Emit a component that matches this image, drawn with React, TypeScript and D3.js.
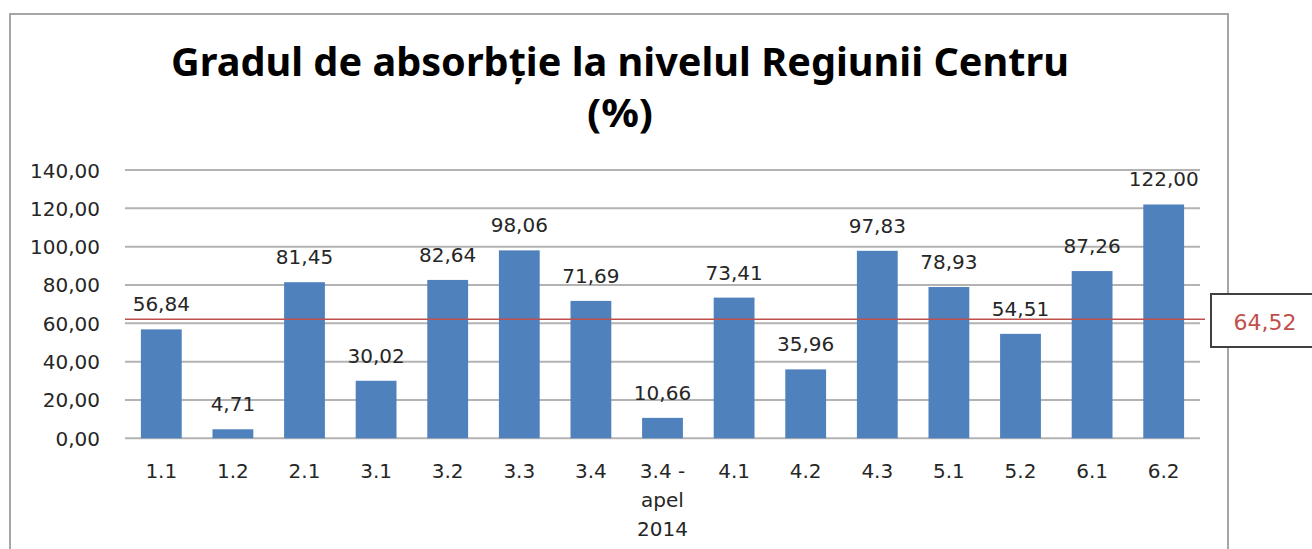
import React, { useRef, useEffect } from 'react';
import * as d3 from 'd3';

// data
const categories = ['1.1', '1.2', '2.1', '3.1', '3.2', '3.3', '3.4', '3.4 -\napel\n2014', '4.1', '4.2', '4.3', '5.1', '5.2', '6.1', '6.2'];
const values = [56.84, 4.71, 81.45, 30.02, 82.64, 98.06, 71.69, 10.66, 73.41, 35.96, 97.83, 78.93, 54.51, 87.26, 122.0];
const yTicks = [0, 20, 40, 60, 80, 100, 120, 140];
const averageLabel = '64,52';
const averageLineValue = 62.1; // where the red line sits in the picture

const fmt = (v: number) => v.toFixed(2).replace('.', ',');

export default function App() {
  const svgRef = useRef<SVGSVGElement>(null);

  useEffect(() => {
    const w = 1312;
    const h = 549;
    const svg = d3.select(svgRef.current);
    svg.selectAll('*').remove();
    svg.attr('width', w).attr('height', h);

    const font = '"DejaVu Sans", Verdana, sans-serif';

    svg.append('rect').attr('width', w).attr('height', h).attr('fill', '#fff');

    // chart border (bottom runs past the picture)
    svg
      .append('rect')
      .attr('x', 10)
      .attr('y', 14)
      .attr('width', 1218)
      .attr('height', 560)
      .attr('fill', 'none')
      .attr('stroke', '#a6a6a6')
      .attr('stroke-width', 2);

    // title
    svg
      .append('text')
      .attr('x', 620)
      .attr('y', 76)
      .attr('text-anchor', 'middle')
      .attr('font-family', '"Noto Sans", "Open Sans", sans-serif')
      .attr('font-weight', 'bold')
      .attr('font-size', 39)
      .attr('textLength', 898)
      .attr('lengthAdjust', 'spacingAndGlyphs')
      .attr('fill', '#000')
      .text('Gradul de absorbție la nivelul Regiunii Centru');
    svg
      .append('text')
      .attr('x', 620)
      .attr('y', 127)
      .attr('text-anchor', 'middle')
      .attr('font-family', '"Noto Sans", "Open Sans", sans-serif')
      .attr('font-weight', 'bold')
      .attr('font-size', 39)
      .attr('textLength', 66)
      .attr('lengthAdjust', 'spacingAndGlyphs')
      .attr('fill', '#000')
      .text('(%)');

    // scales
    const xScale = d3.scaleBand().domain(categories).range([125.5, 1199.5]).paddingInner(0.43).paddingOuter(0.215);
    const yScale = d3.scaleLinear().domain([0, 140]).range([438.3, 170]);

    // gridlines
    svg
      .append('g')
      .selectAll('line')
      .data(yTicks)
      .join('line')
      .attr('x1', 125)
      .attr('x2', 1200)
      .attr('y1', (d) => yScale(d))
      .attr('y2', (d) => yScale(d))
      .attr('stroke', '#b3b3b3')
      .attr('stroke-width', 2);

    // y tick labels
    svg
      .append('g')
      .selectAll('text')
      .data(yTicks)
      .join('text')
      .attr('x', 100)
      .attr('y', (d) => yScale(d) + 7.5)
      .attr('text-anchor', 'end')
      .attr('font-family', font)
      .attr('font-size', 20)
      .attr('fill', '#262626')
      .text((d) => fmt(d));

    // bars
    svg
      .append('g')
      .selectAll('rect')
      .data(values)
      .join('rect')
      .attr('x', (d, i) => xScale(categories[i]) as number)
      .attr('y', (d) => yScale(d))
      .attr('width', xScale.bandwidth())
      .attr('height', (d) => yScale(0) - yScale(d))
      .attr('fill', '#4f81bd');

    // average line
    svg
      .append('line')
      .attr('x1', 125)
      .attr('x2', 1205)
      .attr('y1', yScale(averageLineValue))
      .attr('y2', yScale(averageLineValue))
      .attr('stroke', '#c0504d')
      .attr('stroke-width', 1.5);

    // value labels
    svg
      .append('g')
      .selectAll('text')
      .data(values)
      .join('text')
      .attr('x', (d, i) => (xScale(categories[i]) as number) + xScale.bandwidth() / 2)
      .attr('y', (d) => yScale(d) - 18)
      .attr('text-anchor', 'middle')
      .attr('font-family', font)
      .attr('font-size', 20)
      .attr('fill', '#262626')
      .text((d) => fmt(d));

    // category labels
    const cat = svg
      .append('g')
      .selectAll('text')
      .data(categories)
      .join('text')
      .attr('x', (d) => (xScale(d) as number) + xScale.bandwidth() / 2)
      .attr('y', 478)
      .attr('text-anchor', 'middle')
      .attr('font-family', font)
      .attr('font-size', 20)
      .attr('fill', '#262626');
    cat
      .selectAll('tspan')
      .data((d) => d.split('\n'))
      .join('tspan')
      .attr('x', function () {
        return (this.parentNode as SVGTextElement).getAttribute('x');
      })
      .attr('dy', (d, i) => (i === 0 ? 0 : 29))
      .text((d) => d);

    // average label box
    svg
      .append('rect')
      .attr('x', 1211)
      .attr('y', 294)
      .attr('width', 120)
      .attr('height', 53)
      .attr('fill', '#fff')
      .attr('stroke', '#404040')
      .attr('stroke-width', 2);
    svg
      .append('text')
      .attr('x', 1265)
      .attr('y', 330)
      .attr('text-anchor', 'middle')
      .attr('font-family', font)
      .attr('font-size', 22)
      .attr('fill', '#c0504d')
      .text(averageLabel);
  }, []);

  return <svg ref={svgRef} style={{ position: 'absolute', left: 0, top: 0, display: 'block' }}></svg>;
}
